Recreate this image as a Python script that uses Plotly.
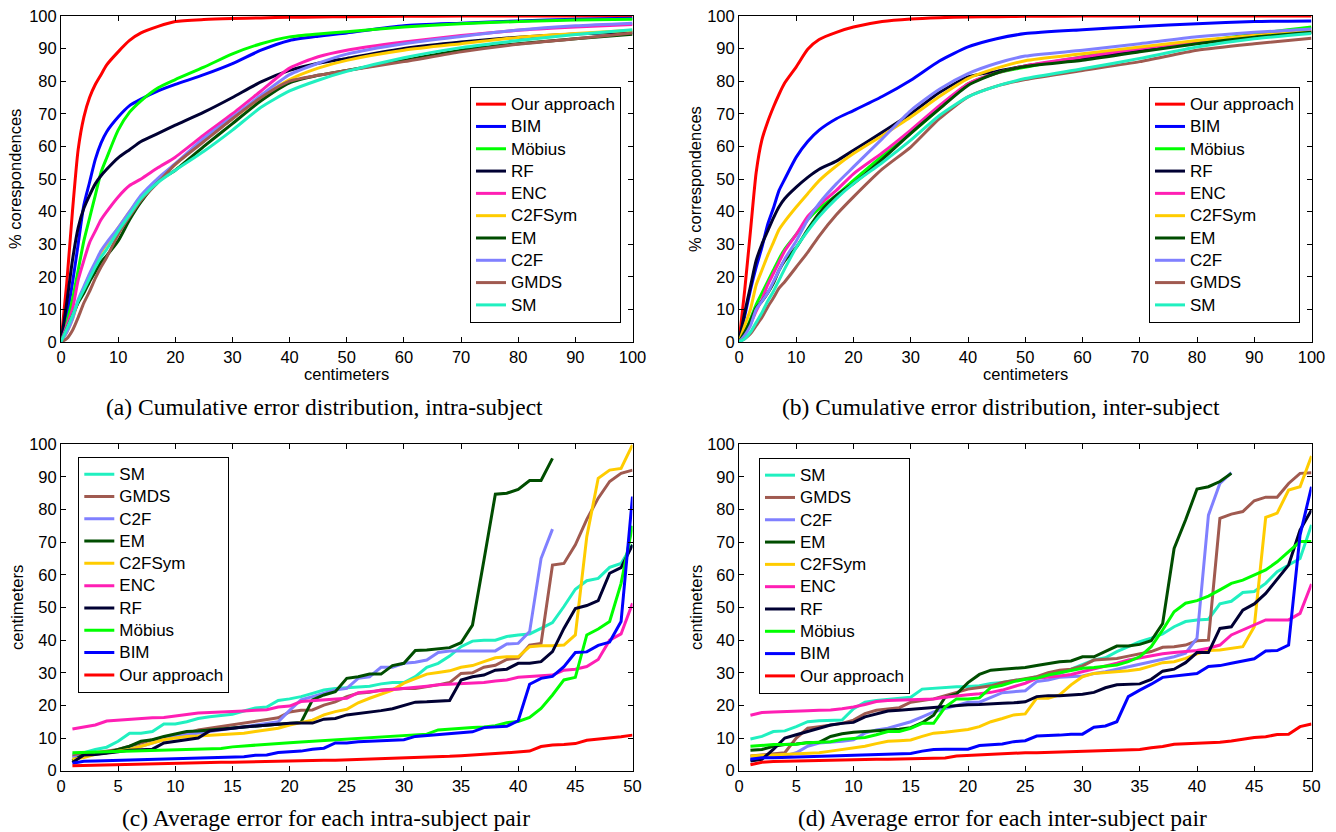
import plotly.graph_objects as go

# ---------------- data ----------------
METHODS = ["Our approach", "BIM", "Möbius", "RF", "ENC", "C2FSym", "EM", "C2F", "GMDS", "SM"]
COLORS = ["#FF0000", "#0000FF", "#00FF00", "#000033", "#FF1FB4",
          "#FFCC00", "#004D00", "#8080FF", "#A05A50", "#20F0C0"]

# cumulative error distribution: x in centimeters
CUM_X = [0, 1, 2, 3, 4, 5, 6, 7, 8, 10, 12, 14, 17, 20, 25, 30, 35, 40, 45, 50, 60, 70, 80, 90, 100]

# (a) intra-subject, % correspondences
A_OUR = [0, 18, 40, 59, 69, 75, 79, 82, 85, 89, 92.5, 94.8, 96.8, 98.3, 98.9, 99.2, 99.4, 99.6, 99.7, 99.8, 99.9, 100, 100, 100, 100]
A_BIM = [0, 8, 18, 30, 42, 49, 56, 61, 64.5, 69, 72.5, 74.5, 77, 79, 82, 85.4, 89.5, 92.5, 93.8, 94.8, 97, 97.8, 98.5, 99, 99.3]
A_MOB = [0, 6, 13, 22, 31, 38, 45, 52, 56.5, 65, 70.5, 74, 78, 80.5, 84.3, 88.4, 91.5, 93.6, 94.5, 95.2, 96.6, 97.6, 98.3, 98.8, 99]
A_RF = [0, 12, 25, 35, 41, 45, 48.5, 51, 53, 56.5, 59, 61.5, 64, 66.5, 70.5, 75, 79.8, 83.3, 85.5, 87, 90, 92, 93.5, 94.5, 95]
A_ENC = [0, 5, 10, 19, 25, 30.5, 34, 37.5, 40, 44.5, 48, 50, 53.5, 56.7, 63.5, 70, 77, 84, 87.5, 89.5, 92, 94, 95.6, 96.6, 97.4]
A_C2FSYM = [0, 3, 7, 12.5, 16.5, 20.5, 24, 27.5, 30, 35, 40, 44.5, 50, 54.5, 62, 68.5, 75, 80.5, 84, 86.4, 89.5, 91.5, 93.4, 94.6, 95.6]
A_EM = [0, 4, 8, 12, 15, 18.5, 21.5, 24.5, 26.5, 31, 37.5, 43, 49.3, 52.7, 60, 67, 74, 79.5, 81.8, 83.3, 86.4, 89.5, 91.5, 93, 94.4]
A_C2F = [0, 3, 7, 13, 17, 21, 24.5, 28, 30.5, 35, 40, 45, 50.3, 54.7, 62.5, 69, 75.7, 82, 85.5, 88.3, 91.5, 93.7, 95.7, 97, 97.8]
A_GMDS = [0, 1, 3.5, 7.5, 12, 15.5, 19.5, 23, 26, 33, 38.5, 43.5, 49, 54.5, 61.5, 68.5, 75, 80, 81.8, 83.3, 86, 89, 91.3, 93, 94.8]
A_SM = [0, 4, 8, 12.5, 16, 19.5, 23, 26, 28.5, 34, 39, 44, 49, 52.7, 58.5, 65, 72, 77, 80.3, 83, 87.2, 90.3, 92.5, 94.3, 95.8]

# (b) inter-subject, % correspondences
B_OUR = [0, 16, 34, 52, 62, 67.5, 72, 76, 79.5, 84.4, 89.8, 92.8, 95, 96.6, 98.3, 99.1, 99.5, 99.7, 99.8, 99.9, 100, 100, 100, 100, 100]
B_BIM = [0, 8, 16, 23, 29, 36, 41, 46.5, 50, 56.7, 61.5, 65, 68.5, 71, 75.3, 80.3, 86.2, 90.5, 93, 94.6, 95.8, 96.8, 97.6, 98.3, 98.5]
B_MOB = [0, 3, 7, 11.5, 15, 18.5, 22, 25.5, 28.5, 33, 37.5, 41, 45, 49.6, 57, 64, 71.5, 79.2, 82.5, 84.3, 87.5, 90, 92, 94.5, 96.6]
B_RF = [0, 9, 17, 25, 30, 34, 38, 41.5, 44, 47.5, 50.5, 53, 55.5, 58.8, 64.3, 70, 76.5, 81.3, 83, 84.7, 86.9, 89.5, 92, 94, 95]
B_ENC = [0, 2.5, 5.5, 9.5, 13, 17.5, 21, 24.5, 28, 33, 38.5, 42, 46.5, 51.6, 58, 65, 72.5, 79.2, 82.5, 84.7, 87.4, 90, 92, 94, 95.3]
B_C2FSYM = [0, 5, 10, 17.5, 22, 26.5, 30.5, 34.5, 37, 41.4, 45.5, 49.5, 54, 57.8, 63.3, 69, 75.3, 80.8, 84, 86.3, 88.4, 90.5, 92.5, 94, 95.3]
B_EM = [0, 3, 6.5, 10.5, 12.5, 15, 18, 22, 25, 29, 34.5, 39.5, 45, 48.6, 56, 64, 71.5, 78.7, 82.5, 84.5, 86.4, 89, 91.5, 93.5, 95]
B_C2F = [0, 2, 5, 10, 12.5, 15, 18.5, 22, 25.5, 31, 37.5, 42.5, 48.5, 53.7, 62.3, 71, 77.5, 82.3, 85.5, 87.7, 89.5, 91.5, 93.6, 95, 96]
B_GMDS = [0, 1, 2.5, 5, 7.5, 10.7, 13.5, 16.5, 18.5, 23, 27.5, 32.5, 39, 44.5, 53, 59.8, 68.5, 75.2, 78.5, 80.5, 83.3, 86, 89.5, 91.5, 93.2]
B_SM = [0, 1, 3, 6, 9, 12.5, 15.5, 19, 22.5, 29, 34, 38.5, 44, 48.6, 55, 61.9, 69.5, 75.2, 78.5, 80.8, 83.8, 87, 90.5, 93, 94.6]

# (c) average error for each intra-subject pair (centimeters), pairs 1..50
C_OUR = [1.5, 1.6, 1.7, 1.8, 1.9, 2.0, 2.1, 2.2, 2.2, 2.3, 2.4, 2.5, 2.5, 2.6, 2.6, 2.7, 2.8, 2.8, 2.9, 3.0,
         3.0, 3.1, 3.2, 3.2, 3.3, 3.4, 3.5, 3.6, 3.7, 3.8, 3.9, 4.0, 4.2, 4.4, 4.6, 4.9, 5.1, 5.3, 5.5, 5.7,
         6.0, 7.4, 7.9, 8.0, 8.3, 9.3, 9.6, 9.9, 10.4, 10.9]
C_BIM = [2.3, 2.9, 3.0, 3.1, 3.2, 3.3, 3.4, 3.5, 3.6, 3.7, 3.8, 3.9, 4.0, 4.1, 4.1, 4.3, 4.7, 4.8, 5.6, 5.7,
         6.0, 6.6, 6.9, 8.5, 8.5, 8.9, 9.1, 9.3, 9.4, 9.5, 10.5, 10.8, 11.0, 11.3, 11.6, 11.9, 13.2, 13.5, 13.6, 15.3,
         26.5, 28.3, 28.9, 31.9, 36.2, 36.4, 38.4, 39.4, 45.7, 84.0]
C_MOB = [5.5, 5.6, 5.7, 5.8, 5.9, 6.0, 6.1, 6.2, 6.3, 6.4, 6.5, 6.6, 6.7, 6.8, 7.3, 7.6, 7.9, 8.1, 8.4, 8.6,
         8.8, 9.0, 9.2, 9.4, 9.6, 9.8, 10.0, 10.3, 10.6, 10.8, 11.0, 11.2, 12.5, 12.8, 13.0, 13.2, 13.4, 13.8, 14.7, 15.1,
         16.3, 19.1, 23.2, 27.8, 28.6, 41.6, 43.4, 45.7, 57.4, 75.0]
C_RF = [2.5, 4.8, 5.0, 5.3, 5.8, 6.3, 6.5, 6.6, 8.5, 9.0, 9.3, 10.0, 12.2, 12.5, 13.0, 13.4, 13.7, 14.0, 14.2, 14.5,
        14.6, 14.6, 15.8, 16.0, 17.1, 17.5, 17.8, 18.4, 19.0, 20.0, 21.0, 21.1, 21.2, 21.5, 27.8, 28.8, 29.3, 30.8, 31.1, 32.9,
        32.9, 33.4, 36.5, 43.6, 49.7, 50.6, 52.1, 60.5, 62.2, 69.2]
C_ENC = [12.8, 13.5, 14.0, 15.2, 15.5, 15.6, 16.0, 16.2, 16.3, 16.8, 17.2, 17.7, 17.8, 17.9, 18.0, 18.3, 18.5, 18.7, 19.5, 19.8,
         21.2, 21.5, 21.8, 22.0, 22.2, 23.9, 24.2, 24.5, 24.8, 25.2, 25.5, 25.9, 26.3, 26.5, 26.6, 26.8, 27.0, 27.5, 27.8, 28.6,
         28.8, 29.0, 29.3, 30.8, 31.1, 31.9, 34.1, 40.0, 41.9, 51.3]
C_C2FSYM = [3.5, 4.0, 5.0, 5.5, 6.0, 6.5, 7.5, 8.5, 9.5, 10.0, 10.5, 10.6, 10.8, 10.9, 11.2, 11.5, 12.0, 12.5, 13.0, 14.0,
            14.7, 15.5, 17.1, 18.1, 18.8, 20.8, 22.2, 23.5, 24.7, 26.8, 28.3, 29.6, 30.1, 30.6, 31.7, 32.2, 33.4, 34.6, 34.9, 34.9,
            38.0, 38.3, 38.3, 38.5, 41.6, 71.7, 89.6, 92.1, 92.6, 99.8]
C_EM = [3.0, 5.0, 5.2, 5.5, 6.5, 7.5, 9.0, 9.5, 10.5, 11.2, 12.0, 12.2, 12.5, 12.8, 13.0, 13.3, 13.6, 14.0, 14.3, 14.5,
        14.8, 21.7, 23.2, 24.2, 28.3, 28.8, 29.6, 29.6, 32.2, 32.9, 36.8, 37.0, 37.3, 37.7, 39.2, 44.6, 64.5, 84.7, 85.0, 86.2,
        88.9, 88.9, 95.7]
C_C2F = [4.0, 4.5, 5.0, 5.5, 6.0, 6.5, 7.5, 8.5, 9.5, 10.5, 11.0, 11.5, 12.0, 12.5, 13.0, 13.5, 14.0, 14.3, 15.0, 18.5,
         21.7, 22.7, 23.7, 24.7, 25.2, 28.3, 28.8, 31.7, 31.7, 32.9, 33.2, 33.9, 36.2, 36.7, 36.7, 36.7, 36.7, 36.7, 38.8, 39.0,
         42.6, 65.0, 74.0]
C_GMDS = [4.5, 5.0, 5.5, 6.0, 6.5, 7.5, 8.5, 9.5, 10.0, 11.0, 11.5, 12.5, 13.0, 13.5, 14.2, 14.7, 15.2, 15.5, 16.2, 18.0,
          18.5, 18.6, 20.1, 21.1, 22.7, 23.7, 24.0, 24.7, 25.0, 25.2, 25.2, 25.7, 26.3, 27.0, 29.8, 30.0, 31.7, 32.3, 34.1, 34.5,
          38.5, 39.0, 63.0, 63.5, 69.2, 77.0, 83.5, 88.6, 91.1, 92.1]
C_SM = [4.8, 5.5, 6.5, 7.2, 9.0, 11.5, 11.5, 12.0, 14.3, 14.3, 15.0, 16.0, 16.5, 17.0, 17.3, 18.3, 19.2, 19.5, 21.5, 22.0,
        22.7, 23.7, 24.7, 25.2, 25.5, 25.7, 25.9, 26.6, 27.0, 27.0, 28.8, 31.7, 32.9, 35.1, 38.0, 39.7, 40.0, 40.0, 41.1, 41.6,
        41.9, 43.6, 45.4, 50.3, 55.6, 58.2, 58.9, 62.3, 63.5, 69.2]

# (d) average error for each inter-subject pair (centimeters), pairs 1..50
D_OUR = [1.8, 2.6, 2.8, 2.9, 3.0, 3.1, 3.2, 3.3, 3.3, 3.4, 3.4, 3.5, 3.5, 3.6, 3.6, 3.7, 3.8, 3.9, 4.5, 4.7,
         4.8, 5.0, 5.1, 5.3, 5.5, 5.5, 5.6, 5.6, 5.7, 5.8, 5.9, 6.1, 6.2, 6.3, 6.5, 7.0, 7.4, 8.1, 8.2, 8.4,
         8.4, 8.7, 9.1, 9.6, 10.2, 10.4, 11.1, 11.2, 13.5, 14.3]
D_BIM = [3.5, 4.0, 4.0, 4.1, 4.2, 4.3, 4.4, 4.5, 4.7, 4.9, 5.0, 5.0, 5.1, 5.1, 5.3, 6.0, 6.5, 6.6, 6.6, 6.6,
         7.7, 8.0, 8.2, 8.9, 9.2, 10.6, 10.7, 10.9, 11.2, 11.2, 13.3, 13.7, 15.0, 22.7, 24.7, 26.5, 28.6, 29.0, 29.6, 29.8,
         31.9, 32.2, 32.9, 33.7, 34.3, 36.7, 36.8, 38.5, 72.2, 87.0]
D_MOB = [7.5, 7.8, 8.0, 8.0, 8.1, 8.6, 8.8, 8.9, 9.6, 9.8, 10.2, 11.0, 12.0, 12.0, 13.0, 14.5, 14.5, 19.5, 22.0, 22.0,
         22.3, 25.5, 26.2, 27.3, 28.0, 28.3, 29.3, 30.0, 30.8, 31.4, 31.6, 31.9, 32.4, 33.4, 34.9, 38.0, 43.1, 48.7, 51.3, 52.1,
         53.5, 55.4, 57.4, 58.4, 60.0, 61.5, 64.0, 67.1, 70.2, 70.2]
D_RF = [3.0, 3.5, 6.5, 10.0, 11.0, 12.0, 13.0, 14.0, 14.5, 14.8, 16.5, 17.5, 18.3, 18.5, 18.8, 19.2, 19.3, 19.8, 20.0, 20.2,
        20.3, 20.6, 20.7, 20.8, 21.1, 22.7, 23.0, 23.0, 23.2, 23.4, 24.0, 25.4, 26.3, 26.5, 26.6, 28.0, 30.5, 31.1, 33.1, 36.2,
        36.2, 43.6, 44.1, 49.2, 51.1, 54.3, 58.7, 63.0, 73.7, 79.9]
D_ENC = [17.0, 17.8, 18.0, 18.2, 18.3, 18.4, 18.5, 18.6, 19.0, 19.5, 20.3, 21.2, 21.5, 21.6, 21.7, 21.8, 22.0, 22.5, 23.0, 23.3,
         23.6, 24.0, 24.7, 25.7, 26.8, 28.3, 28.6, 29.0, 29.5, 30.3, 31.1, 31.9, 32.9, 33.9, 34.6, 35.1, 35.8, 36.2, 36.5, 36.8,
         37.5, 38.5, 41.6, 43.1, 44.8, 46.2, 46.2, 46.2, 48.2, 57.2]
D_C2FSYM = [4.5, 4.7, 4.8, 5.0, 5.2, 5.3, 5.5, 6.0, 6.5, 7.0, 7.5, 8.3, 9.0, 9.2, 9.4, 10.5, 11.5, 11.8, 12.3, 12.6,
            13.5, 15.0, 16.0, 17.1, 17.4, 22.2, 22.2, 23.2, 26.3, 28.8, 29.8, 30.0, 30.3, 30.6, 31.1, 32.2, 33.1, 33.4, 34.4, 35.8,
            36.8, 37.0, 37.4, 38.0, 44.1, 77.6, 78.9, 86.0, 87.0, 96.4]
D_EM = [6.3, 6.5, 7.5, 8.0, 8.2, 8.6, 8.7, 10.5, 11.3, 11.8, 12.0, 12.2, 12.5, 12.7, 13.2, 14.7, 17.0, 22.5, 23.5, 27.0,
        29.5, 30.8, 31.1, 31.4, 31.6, 32.2, 32.9, 33.4, 33.6, 34.9, 34.9, 36.5, 38.2, 38.2, 38.7, 39.8, 45.1, 68.1, 76.8, 86.3,
        87.0, 88.6, 91.1]
D_C2F = [3.5, 4.0, 4.2, 4.5, 5.5, 7.5, 8.5, 8.7, 9.0, 9.5, 11.5, 12.5, 13.0, 14.0, 15.0, 16.5, 18.0, 19.0, 20.0, 21.0,
         21.0, 22.5, 23.9, 24.2, 24.5, 27.3, 27.8, 28.6, 28.8, 29.0, 29.8, 30.3, 31.1, 31.9, 32.6, 33.4, 34.1, 34.9, 36.0, 40.6,
         78.3, 88.0, 91.3]
D_GMDS = [4.5, 4.8, 5.0, 5.5, 10.0, 13.0, 13.5, 14.0, 14.5, 15.5, 17.5, 18.5, 19.0, 19.3, 21.0, 21.5, 22.0, 23.0, 24.0, 25.0,
          25.5, 26.0, 27.0, 27.6, 28.0, 28.8, 30.0, 30.8, 31.1, 32.1, 33.9, 34.1, 34.4, 35.1, 35.8, 36.5, 37.8, 38.0, 38.5, 39.8,
          40.0, 77.3, 78.6, 79.4, 82.7, 83.8, 83.8, 88.0, 91.1, 91.3]
D_SM = [9.7, 10.5, 12.0, 12.2, 13.5, 15.0, 15.3, 15.5, 15.5, 19.0, 21.0, 21.5, 21.8, 22.0, 22.5, 25.0, 25.3, 25.6, 25.7, 25.8,
        26.0, 26.7, 27.0, 27.6, 28.0, 28.8, 29.3, 29.8, 31.1, 32.4, 33.9, 34.6, 36.5, 38.0, 39.5, 40.6, 41.9, 44.1, 45.7, 46.2,
        46.4, 51.1, 51.9, 54.6, 54.9, 57.4, 61.0, 63.0, 65.0, 75.3]

X_TICKS_CUM = [0, 10, 20, 30, 40, 50, 60, 70, 80, 90, 100]
X_TICKS_PAIR = [0, 5, 10, 15, 20, 25, 30, 35, 40, 45, 50]
Y_TICKS = [0, 10, 20, 30, 40, 50, 60, 70, 80, 90, 100]

PANEL_A = [A_OUR, A_BIM, A_MOB, A_RF, A_ENC, A_C2FSYM, A_EM, A_C2F, A_GMDS, A_SM]
PANEL_B = [B_OUR, B_BIM, B_MOB, B_RF, B_ENC, B_C2FSYM, B_EM, B_C2F, B_GMDS, B_SM]
PANEL_C = [C_OUR, C_BIM, C_MOB, C_RF, C_ENC, C_C2FSYM, C_EM, C_C2F, C_GMDS, C_SM]
PANEL_D = [D_OUR, D_BIM, D_MOB, D_RF, D_ENC, D_C2FSYM, D_EM, D_C2F, D_GMDS, D_SM]

# ---------------- figure ----------------
W, H = 1336, 832
SANS = "Liberation Sans, Arial, Helvetica, sans-serif"
SERIF = "Liberation Serif, Times New Roman, serif"
FS = 16.5

fig = go.Figure()

def px_x(p):
    return p / W

def px_y(p):
    return 1 - p / H

def leg_name(s):
    # legend rows are spaced for a 14.85px font; label itself is shown at 17px
    return '<span style="font-size:17px">%s</span>' % s

# cumulative panels: Our approach drawn first
for ax, leg, panel in (("", "legend", PANEL_A), ("2", "legend2", PANEL_B)):
    for name, color, ys in zip(METHODS, COLORS, panel):
        fig.add_trace(go.Scatter(
            x=CUM_X, y=ys, mode="lines", name=leg_name(name),
            line=dict(color=color, width=3, shape="spline", smoothing=0.6),
            xaxis="x" + ax, yaxis="y" + ax, legend=leg, hoverinfo="skip"))

# per-pair panels: drawn in reverse order (SM first)
for ax, leg, panel in (("3", "legend3", PANEL_C), ("4", "legend4", PANEL_D)):
    for name, color, ys in reversed(list(zip(METHODS, COLORS, panel))):
        fig.add_trace(go.Scatter(
            x=list(range(1, len(ys) + 1)), y=ys, mode="lines", name=leg_name(name),
            line=dict(color=color, width=3),
            xaxis="x" + ax, yaxis="y" + ax, legend=leg, hoverinfo="skip"))

def axis_style(domain, rng, ticks, anchor):
    return dict(domain=domain, range=rng, tickvals=ticks, anchor=anchor,
                showline=True, linecolor="black", linewidth=1, mirror="ticks",
                ticks="inside", ticklen=5, tickwidth=1, tickcolor="black",
                showgrid=False, zeroline=False, automargin=False,
                tickfont=dict(family=SANS, size=FS, color="black"))

XA = [px_x(61), px_x(632.5)]
XB = [px_x(739), px_x(1311.5)]
YTOP = [px_y(342), px_y(16)]
YBOT = [px_y(770.7), px_y(444.3)]

fig.update_layout(
    width=W, height=H, autosize=False,
    margin=dict(l=0, r=0, t=0, b=0, pad=0, autoexpand=False),
    paper_bgcolor="white", plot_bgcolor="white",
    font=dict(family=SANS, size=FS, color="black"),
    xaxis=axis_style(XA, [0, 100], X_TICKS_CUM, "y"),
    yaxis=axis_style(YTOP, [0, 100], Y_TICKS, "x"),
    xaxis2=axis_style(XB, [0, 100], X_TICKS_CUM, "y2"),
    yaxis2=axis_style(YTOP, [0, 100], Y_TICKS, "x2"),
    xaxis3=axis_style(XA, [0, 50], X_TICKS_PAIR, "y3"),
    yaxis3=axis_style(YBOT, [0, 100], Y_TICKS, "x3"),
    xaxis4=axis_style(XB, [0, 50], X_TICKS_PAIR, "y4"),
    yaxis4=axis_style(YBOT, [0, 100], Y_TICKS, "x4"),
)

leg_common = dict(bgcolor="white", bordercolor="black", borderwidth=1,
                  font=dict(family=SANS, size=14.85, color="black"),
                  xanchor="left", yanchor="top", tracegroupgap=0)
fig.update_layout(
    legend=dict(x=px_x(470), y=px_y(87), **leg_common),
    legend2=dict(x=px_x(1149), y=px_y(87), **leg_common),
    legend3=dict(x=px_x(78.3), y=px_y(457), **leg_common),
    legend4=dict(x=px_x(759), y=px_y(458), **leg_common),
)

ann = []
def text(x, y, s, size=FS, family=SANS, angle=0):
    ann.append(dict(x=px_x(x), y=px_y(y), xref="paper", yref="paper", text=s,
                    showarrow=False, xanchor="center", yanchor="middle", textangle=angle,
                    font=dict(family=family, size=size, color="black")))

# axis titles
text(346.5, 374, "centimeters")
text(1025, 374, "centimeters")
text(15, 179, "% corespondences", angle=-90)
text(695, 179, "% correspondences", angle=-90)
text(17, 608, "centimeters", angle=-90)
text(696, 608, "centimeters", angle=-90)
# captions
text(324, 407, "(a) Cumulative error distribution, intra-subject", size=23.5, family=SERIF)
text(1001, 407, "(b) Cumulative error distribution, inter-subject", size=23.5, family=SERIF)
text(326, 818, "(c) Average error for each intra-subject pair", size=23.5, family=SERIF)
text(1002, 818, "(d) Average error for each inter-subject pair", size=23.5, family=SERIF)
fig.update_layout(annotations=ann)

fig.write_html(
    "out.html",
    config={"displayModeBar": False},
    post_script="document.body.style.margin='0';document.documentElement.style.overflow='hidden';",
)
